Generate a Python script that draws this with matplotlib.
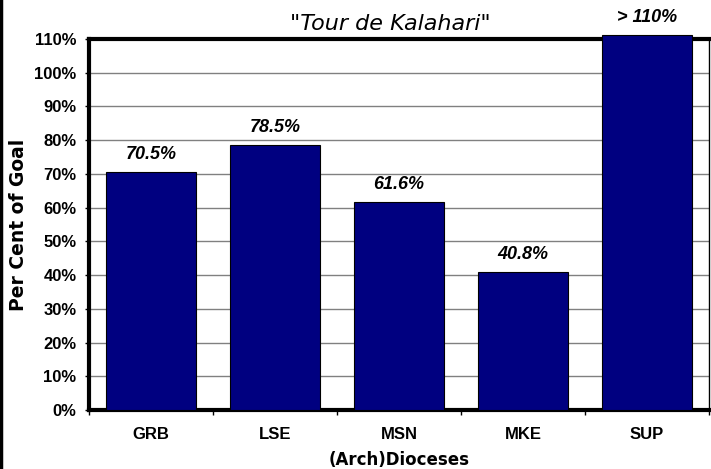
import matplotlib
matplotlib.use("Agg")
import matplotlib.pyplot as plt
from matplotlib.lines import Line2D
import numpy as np

plt.rcParams['font.family'] = ['Liberation Sans', 'DejaVu Sans']

dioceses = ['GRB', 'LSE', 'MSN', 'MKE', 'SUP']
percent = [70.5, 78.5, 61.6, 40.8, 111.2]
labels = ['70.5%', '78.5%', '61.6%', '40.8%', '> 110%']
yticks = list(range(0, 111, 10))

fig = plt.figure(figsize=(7.11, 4.69), dpi=100)
ax = fig.add_axes([89 / 711, 59 / 469, 620 / 711, 371 / 469])

x = np.arange(len(dioceses))
bars = ax.bar(x, percent, width=0.72, color='#000080', edgecolor='black',
              linewidth=0.8, zorder=3, clip_on=False)

ax.set_xlim(-0.5, len(dioceses) - 0.5)
ax.set_ylim(0, 110)
ax.set_yticks(yticks)
ax.set_yticklabels([f'{t}%' for t in yticks], fontsize=12, fontweight='bold')
ax.yaxis.grid(True, color='#808080', linewidth=1, zorder=0)
ax.set_axisbelow(True)

ax.set_xticks(x)
ax.set_xticklabels(dioceses, fontsize=12, fontweight='bold')
ax.tick_params(axis='x', length=0, pad=12)
ax.set_xticks(np.arange(-0.5, len(dioceses)), minor=True)
ax.tick_params(axis='x', which='minor', length=3.5, width=1)
ax.tick_params(axis='y', length=3, width=1, pad=6)

for side in ['top', 'left', 'bottom']:
    ax.spines[side].set_linewidth(3)
ax.spines['right'].set_linewidth(1)
ax.spines['top'].set_zorder(2)

for b, lab in zip(bars, labels):
    ax.annotate(lab, (b.get_x() + b.get_width() / 2, b.get_height()),
                xytext=(0, 9.5), textcoords='offset points', ha='center',
                va='baseline', fontsize=13, fontweight='bold', style='italic',
                annotation_clip=False)

# the reference's title and axis titles are drawn wide, DejaVu gets closer
fig.text(390 / 711, 1 - 29.5 / 469, '"Tour de Kalahari"', ha='center',
         va='baseline', fontsize=16, style='italic', family='DejaVu Sans')
ax.set_ylabel('Per Cent of Goal', fontsize=13.5, fontweight='bold',
              family='DejaVu Sans')
ax.yaxis.set_label_coords(-0.098, 0.5)
ax.set_xlabel('(Arch)Dioceses', fontsize=12, fontweight='bold',
              family='DejaVu Sans', labelpad=7)

fig.add_artist(Line2D([1.5 / 711, 1.5 / 711], [0, 1], color='black',
                      linewidth=2.5, transform=fig.transFigure))

fig.savefig('out.png', dpi=100)
